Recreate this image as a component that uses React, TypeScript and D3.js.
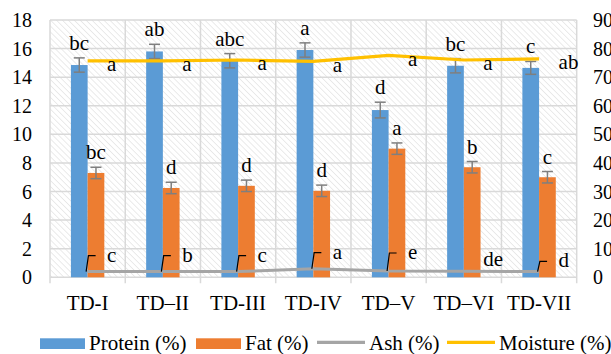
import React from 'react';
import * as d3 from 'd3';

const categories = ["TD-I", "TD–II", "TD-III", "TD-IV", "TD–V", "TD–VI", "TD-VII"];
const protein = [14.85, 15.8, 15.15, 15.9, 11.7, 14.8, 14.65];
const proteinErr = [0.5, 0.5, 0.5, 0.5, 0.55, 0.5, 0.45];
const proteinLetters = ["bc", "ab", "abc", "a", "d", "bc", "c"];
const fat = [7.3, 6.25, 6.4, 6.05, 9.0, 7.7, 7.0];
const fatErr = [0.4, 0.4, 0.4, 0.4, 0.4, 0.4, 0.4];
const fatLetters = ["bc", "d", "d", "d", "a", "b", "c"];
const moisture = [75.7, 75.7, 76.0, 75.5, 77.6, 76.0, 76.4];
const moistureLetters = ["a", "a", "a", "a", "a", "a", "ab"];
const ash = [2.0, 2.0, 2.0, 3.0, 2.2, 2.1, 2.0];
const ashErr = [5.6, 5.6, 5.6, 5.6, 6.3, 0, 3.6];
const ashLetters = ["c", "b", "c", "a", "e", "de", "d"];
const leftTicks = [0, 2, 4, 6, 8, 10, 12, 14, 16, 18];
const rightTicks = [0, 10, 20, 30, 40, 50, 60, 70, 80, 90];
const legendLabels = ["Protein (%)", "Fat (%)", "Ash (%)", "Moisture (%)"];

const W = 611, H = 354;
const L = 50, R = 576.7, T = 20, B = 277.3;
const FONT = '"Liberation Serif"';
const C_PROT = '#5B9BD5', C_FAT = '#ED7D31', C_ASH = '#A5A5A5', C_MOIST = '#FFC000';
const GRID = '#d9d9d9';
const ERR = '#7f7f7f';

export default function App() {
  const x = d3.scaleBand<string>().domain(categories).range([L, R]).padding(0);
  const bw = x.bandwidth();
  const sub = d3.scaleBand<string>().domain(['p', 'f']).range([bw * 0.278, bw * 0.722]).padding(0);
  const yL = d3.scaleLinear().domain([0, 18]).range([B, T]);
  const yR = d3.scaleLinear().domain([0, 90]).range([B, T]);
  const cx = (c: string) => (x(c) as number) + bw / 2;
  const moistLine = d3.line<number>().x((_, i) => cx(categories[i])).y(d => yR(d));
  const ashLine = d3.line<number>().x((_, i) => cx(categories[i])).y(d => yR(d));
  const capW = 11;

  const errBar = (xc: number, v: number, e: number, key: string) => {
    const y1 = yL(v + e), y2 = yL(v - e);
    return (
      <g key={key} stroke={ERR} strokeWidth={1.5}>
        <line x1={xc} x2={xc} y1={y1} y2={y2} />
        <line x1={xc - capW / 2} x2={xc + capW / 2} y1={y1} y2={y1} />
        <line x1={xc - capW / 2} x2={xc + capW / 2} y1={y2} y2={y2} />
      </g>
    );
  };

  const legendX = [40, 196, 317, 447];
  const ts = { fontFamily: FONT };

  return (
    <svg width={W} height={H} style={{ position: 'absolute', left: 0, top: 0, background: '#fff' }}>
      <defs>
        <pattern id="hatch" patternUnits="userSpaceOnUse" width={4.2} height={4.2} patternTransform="rotate(-45)">
          <line x1={0} y1={0} x2={0} y2={4.2} stroke="#d6d6d6" strokeWidth={1} />
        </pattern>
      </defs>
      <rect x={L} y={T} width={R - L} height={B - T} fill="#fff" />
      <rect x={L} y={T} width={R - L} height={B - T} fill="url(#hatch)" />
      {leftTicks.map(t => (
        <line key={'hg' + t} x1={L} x2={R} y1={yL(t)} y2={yL(t)} stroke={GRID} strokeWidth={1.5} />
      ))}
      {categories.map(c => (
        <line key={'vg' + c} x1={x(c)} x2={x(c)} y1={T} y2={B + 6} stroke={GRID} strokeWidth={1.5} />
      ))}
      <line x1={R} x2={R} y1={T} y2={B + 6} stroke={GRID} strokeWidth={1.5} />

      {categories.map((c, i) => (
        <rect key={'p' + c} x={(x(c) as number) + (sub('p') as number)} width={sub.bandwidth()}
          y={yL(protein[i])} height={B - yL(protein[i])} fill={C_PROT} />
      ))}
      {categories.map((c, i) => (
        <rect key={'f' + c} x={(x(c) as number) + (sub('f') as number)} width={sub.bandwidth()}
          y={yL(fat[i])} height={B - yL(fat[i])} fill={C_FAT} />
      ))}
      {categories.map((c, i) => errBar((x(c) as number) + (sub('p') as number) + sub.bandwidth() / 2, protein[i], proteinErr[i], 'pe' + i))}
      {categories.map((c, i) => errBar((x(c) as number) + (sub('f') as number) + sub.bandwidth() / 2, fat[i], fatErr[i], 'fe' + i))}

      <path d={ashLine(ash) || ''} fill="none" stroke={C_ASH} strokeWidth={3} />
      <path d={moistLine(moisture) || ''} fill="none" stroke={C_MOIST} strokeWidth={3.2} />

      {categories.map((c, i) => {
        if (!ashErr[i]) return null;
        const x0 = cx(c);
        const yb = yR(ash[i]);
        const yt = yR(ash[i] + ashErr[i]);
        return <path key={'ag' + i} d={`M${x0 - 1.5},${yb} L${x0 + 0.8},${yt} L${x0 + 8},${yt}`}
          fill="none" stroke="#000" strokeWidth={1.2} />;
      })}

      {categories.map((c, i) => (
        <text key={'pl' + i} style={ts} x={(x(c) as number) + (sub('p') as number) + sub.bandwidth() / 2}
          y={yL(protein[i] + proteinErr[i]) - 8} textAnchor="middle" fontSize={21}>{proteinLetters[i]}</text>
      ))}
      {categories.map((c, i) => (
        <text key={'fl' + i} style={ts} x={(x(c) as number) + (sub('f') as number) + sub.bandwidth() / 2}
          y={yL(fat[i] + fatErr[i]) - 8} textAnchor="middle" fontSize={21}>{fatLetters[i]}</text>
      ))}
      {categories.map((c, i) => (
        <text key={'ml' + i} style={ts} x={cx(c) + 19.5} y={yR(moisture[i]) + 3.5} dy="0.32em"
          fontSize={21}>{moistureLetters[i]}</text>
      ))}
      {categories.map((c, i) => (
        <text key={'al' + i} style={ts} x={cx(c) + 19.5}
          y={ashErr[i] ? yR(ash[i] + ashErr[i]) + 6 : yR(ash[i]) - 5}
          fontSize={21}>{ashLetters[i]}</text>
      ))}

      {leftTicks.map(t => (
        <text key={'lt' + t} style={ts} x={32} y={yL(t)} dy="0.35em" textAnchor="end" fontSize={20}>{t}</text>
      ))}
      {rightTicks.map(t => (
        <text key={'rt' + t} style={ts} x={593} y={yR(t)} dy="0.35em" textAnchor="start" fontSize={20}>{t}</text>
      ))}
      {categories.map(c => (
        <text key={'xl' + c} style={ts} x={cx(c)} y={310} textAnchor="middle" fontSize={21}>{c}</text>
      ))}

      {legendLabels.map((lab, i) => {
        const lx = legendX[i];
        const col = [C_PROT, C_FAT, C_ASH, C_MOIST][i];
        return (
          <g key={'lg' + i}>
            {i < 2
              ? <rect x={lx} y={338.3} width={45} height={10.7} fill={col} />
              : <line x1={lx} x2={lx + 48} y1={342.3} y2={342.3} stroke={col} strokeWidth={3.2} />}
            <text style={ts} x={lx + (i < 2 ? 49 : 52)} y={349.5} fontSize={21}>{lab}</text>
          </g>
        );
      })}
    </svg>
  );
}
